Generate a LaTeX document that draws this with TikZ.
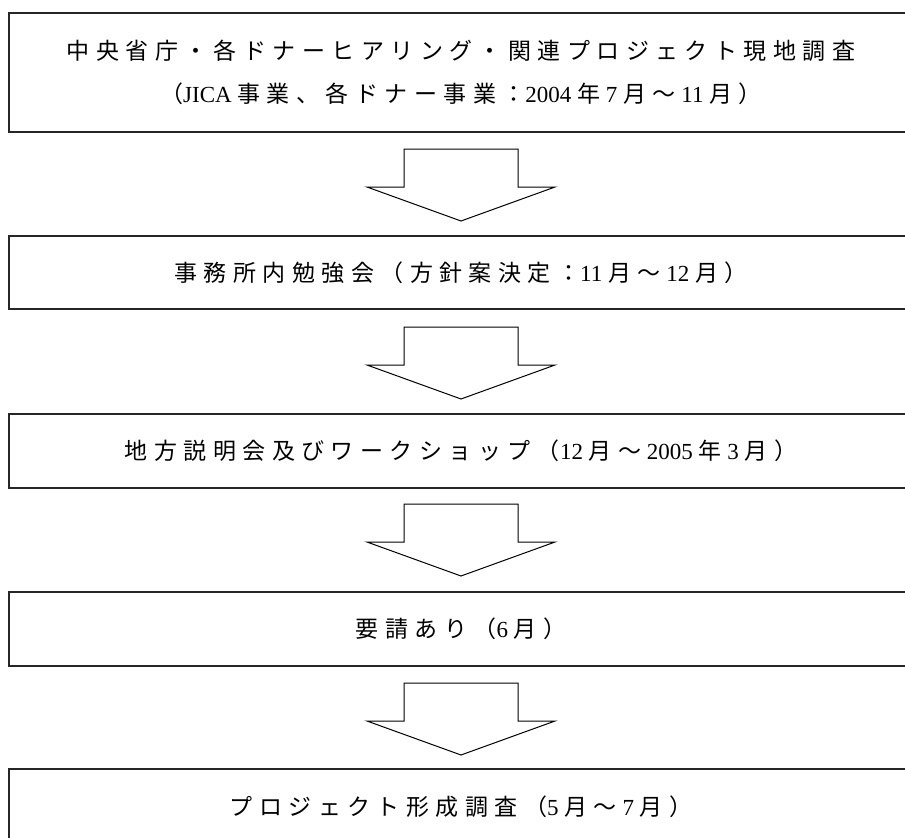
\documentclass[tikz,border=0pt]{standalone}
\usepackage{fontspec}
\setmainfont{Liberation Serif}
\newfontfamily\jpfont[LetterSpace=28]{Noto Sans CJK JP}
\newcommand{\J}[1]{{\jpfont #1}}
\begin{document}
\begin{tikzpicture}[x=1pt,y=-1pt]
\tikzset{
  box/.style={draw=black!85, line width=1.4pt, minimum width=904pt, inner sep=0pt, align=center, font=\fontsize{23}{43}\selectfont},
  arrowline/.style={draw=black, line width=1pt, line join=miter, fill=white},
  bigarrow/.pic={\path[arrowline] (-57,0) -- (57,0) -- (57,38) -- (94,38) -- (0,72) -- (-94,38) -- (-57,38) -- cycle;}
}
\useasboundingbox (0,0) rectangle (905,838);
\node[box, minimum height=119pt] (b1) at (461,72.5) {\J{中央省庁・各ドナーヒアリング・関連プロジェクト現地調査}\\\J{（}JICA \J{事業、各ドナー事業：}2004 \J{年} 7 \J{月～} 11 \J{月）}};
\node[box, minimum height=73pt] (b2) at (461,272.5) {\J{事務所内勉強会（方針案決定：}11 \J{月～} 12 \J{月）}};
\node[box, minimum height=74pt] (b3) at (461,451) {\J{地方説明会及びワークショップ（}12 \J{月～} 2005 \J{年} 3 \J{月）}};
\node[box, minimum height=74pt] (b4) at (461,629) {\J{要請あり（}6 \J{月）}};
\node[box, minimum height=76pt] (b5) at (461,807) {\J{プロジェクト形成調査（}5 \J{月～} 7 \J{月）}};
\coordinate (a1) at (461,149);
\coordinate (a2) at (461,327);
\coordinate (a3) at (461,504);
\coordinate (a4) at (461,683);
\pic at (a1) {bigarrow};
\pic at (a2) {bigarrow};
\pic at (a3) {bigarrow};
\pic at (a4) {bigarrow};
\end{tikzpicture}
\end{document}
